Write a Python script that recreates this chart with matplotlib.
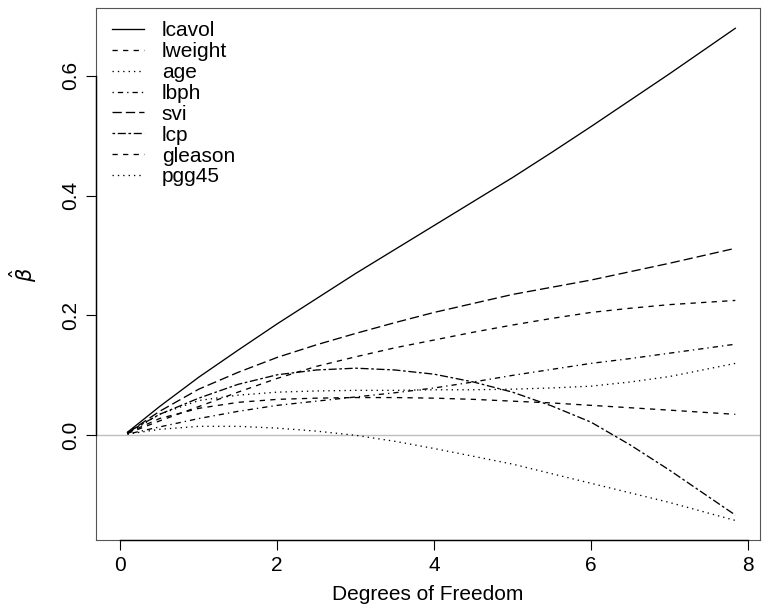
import matplotlib
matplotlib.use("Agg")
import matplotlib.pyplot as plt

plt.rcParams['font.family'] = ['Liberation Sans', 'DejaVu Sans']
plt.rcParams['lines.scale_dashes'] = False

# ridge coefficient profiles
df = [0.09, 0.5, 1, 1.5, 2, 2.5, 3, 3.5, 4, 4.5, 5, 5.5, 6, 6.5, 7, 7.84]
lcavol = [0.005, 0.048, 0.097, 0.142, 0.186, 0.228, 0.27, 0.31, 0.35, 0.39,
          0.43, 0.472, 0.515, 0.559, 0.603, 0.679]
lweight = [0.003, 0.024, 0.048, 0.072, 0.095, 0.115, 0.131, 0.146, 0.159, 0.172,
           0.184, 0.195, 0.205, 0.212, 0.218, 0.225]
age = [0.002, 0.01, 0.015, 0.015, 0.012, 0.007, 0.0, -0.01, -0.022, -0.035,
       -0.048, -0.064, -0.08, -0.096, -0.112, -0.142]
lbph = [0.002, 0.014, 0.028, 0.04, 0.05, 0.057, 0.064, 0.071, 0.079, 0.089,
        0.1, 0.11, 0.12, 0.128, 0.137, 0.152]
svi = [0.004, 0.04, 0.077, 0.105, 0.13, 0.151, 0.17, 0.188, 0.205, 0.22,
       0.235, 0.247, 0.259, 0.273, 0.287, 0.312]
lcp = [0.005, 0.035, 0.062, 0.085, 0.101, 0.109, 0.112, 0.109, 0.102, 0.089,
       0.072, 0.049, 0.022, -0.016, -0.058, -0.133]
gleason = [0.004, 0.028, 0.045, 0.055, 0.06, 0.062, 0.063, 0.063, 0.062, 0.06,
           0.057, 0.054, 0.05, 0.046, 0.042, 0.035]
pgg45 = [0.003, 0.035, 0.058, 0.067, 0.072, 0.074, 0.075, 0.075, 0.076, 0.076,
         0.077, 0.079, 0.082, 0.089, 0.098, 0.12]

names = ['lcavol', 'lweight', 'age', 'lbph', 'svi', 'lcp', 'gleason', 'pgg45']
series = [lcavol, lweight, age, lbph, svi, lcp, gleason, pgg45]

# R lty 1..6, recycled
dashed = (0, (3.8, 3.8))
dotted = (0, (0.96, 2.9))
dotdash = (0, (0.96, 2.9, 3.8, 2.9))
longdash = (0, (6.7, 2.9))
twodash = (0, (1.9, 1.9, 5.8, 1.9))
styles = ['-', dashed, dotted, dotdash, longdash, twodash, dashed, dotted]

fig = plt.figure(figsize=(7.67, 6.07), dpi=100)
ax = fig.add_axes([0.1248, 0.110, 0.866, 0.876])

ax.axhline(0, color='#bebebe', lw=1.0, zorder=1)
for name, ys, ls in zip(names, series, styles):
    ax.plot(df, ys, color='black', lw=0.95, linestyle=ls, label=name, zorder=2)

xlo, xhi = -0.314, 8.154
ylo, yhi = -0.175, 0.712
ax.set_xlim(xlo, xhi)
ax.set_ylim(ylo, yhi)
ax.set_xticks([0, 2, 4, 6, 8])
ax.set_yticks([0.0, 0.2, 0.4, 0.6])
ax.set_yticklabels(['0.0', '0.2', '0.4', '0.6'], rotation=90, va='center')
ax.tick_params(direction='out', length=7, width=0.8, labelsize=15, pad=4)
for s in ax.spines.values():
    s.set_linewidth(0.8)
    s.set_color('#555555')

# darker axis lines between first and last tick, like R's axis()
ax.plot([0, 8], [ylo, ylo], color='black', lw=1.0, clip_on=False, zorder=5)
ax.plot([xlo, xlo], [0.0, 0.6], color='black', lw=1.0, clip_on=False, zorder=5)

ax.set_xlabel('Degrees of Freedom', fontsize=15)
ax.xaxis.set_label_coords(0.5, -0.085)
ax.set_ylabel(r'$\hat{\beta}$', fontsize=15)
ax.yaxis.set_label_coords(-0.085, 0.5)

ax.legend(loc='upper left', bbox_to_anchor=(0.024, 0.976), frameon=False,
          fontsize=15, handlelength=1.55, labelspacing=0.09, borderpad=0,
          borderaxespad=0, handletextpad=0.85)

fig.savefig('out.png', dpi=100)
